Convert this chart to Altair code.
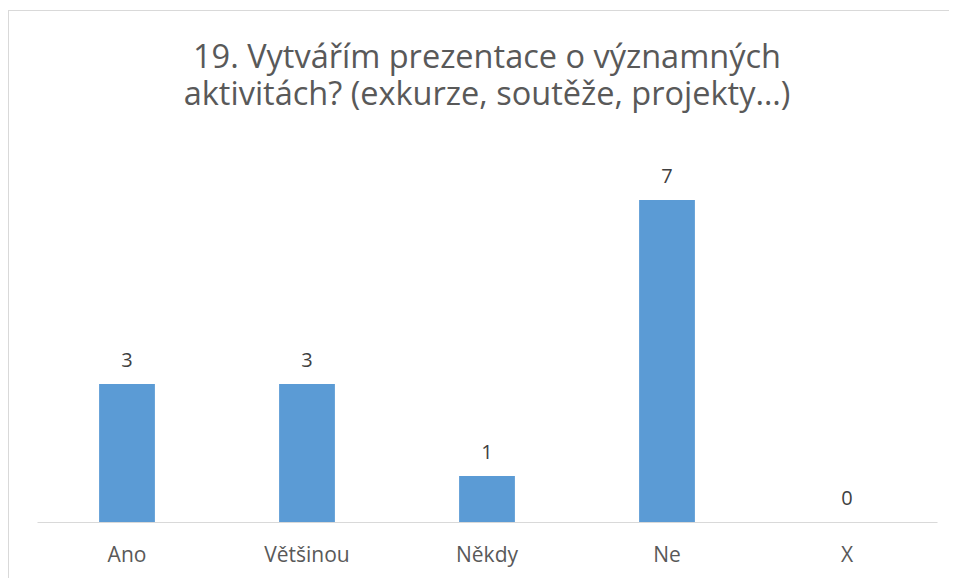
import altair as alt
import pandas as pd

categories = ["Ano", "Většinou", "Někdy", "Ne", "X"]
values = [3, 3, 1, 7, 0]
title_lines = ["19. Vytvářím prezentace o významných", "aktivitách? (exkurze, soutěže, projekty…)"]

df = pd.DataFrame({"odpoved": categories, "pocet": values})

FONT = "Open Sans"
BAR = "#5B9BD5"
GRID = "#d9d9d9"
TXT = "#595959"

x = alt.X("odpoved:N", sort=categories,
          scale=alt.Scale(paddingInner=0.69, paddingOuter=0.345),
          axis=alt.Axis(title=None, labelAngle=0, ticks=False, domainColor=GRID,
                        domainWidth=1, labelColor=TXT, labelFontSize=21, labelFont=FONT,
                        labelPadding=22, grid=False))
y = alt.Y("pocet:Q", scale=alt.Scale(domain=[0, 8], nice=False), axis=None)

bars = alt.Chart(df).mark_bar(color=BAR).encode(x=x, y=y)
labels = alt.Chart(df).mark_text(baseline="bottom", dy=-13, fontSize=20, font=FONT,
                                 color="#404040").encode(x=x, y=y, text="pocet:Q")

border_df = pd.DataFrame({"k": [0]})
top_border = alt.Chart(border_df).mark_rule(color=GRID, strokeWidth=1).encode(
    x=alt.value(-29), x2=alt.value(960), y=alt.value(-143.5))
left_border = alt.Chart(border_df).mark_rule(color=GRID, strokeWidth=1).encode(
    x=alt.value(-28.5), y=alt.value(-144), y2=alt.value(600))

chart = alt.layer(top_border, left_border, bars, labels).properties(
    width=900, height=368,
    background="white",
    title=alt.Title(title_lines, font=FONT, fontSize=32.5, fontWeight="normal",
                    color=TXT, anchor="middle", lineHeight=37, offset=-102),
    autosize=alt.AutoSizeParams(type="none"),
    padding={"left": 29, "top": 146, "right": 12, "bottom": 56},
).configure_view(stroke=None)

chart.save("out.html", embed_options={"renderer": "svg", "actions": False})
